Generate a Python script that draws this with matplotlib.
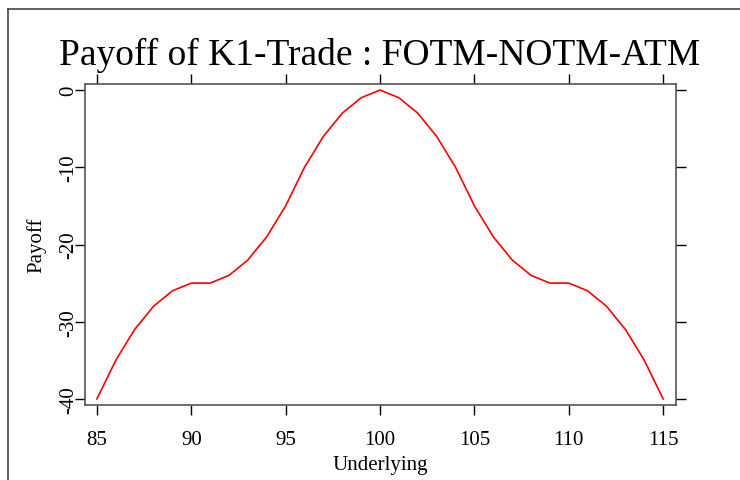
import matplotlib
matplotlib.use("Agg")
import matplotlib.pyplot as plt
from matplotlib.lines import Line2D

underlying = list(range(85, 116))
payoff = [-40, -35, -31, -28, -26, -25, -25, -24, -22, -19, -15, -10, -6, -3, -1, 0,
          -1, -3, -6, -10, -15, -19, -22, -24, -25, -25, -26, -28, -31, -35, -40]
xticks = [85, 90, 95, 100, 105, 110, 115]
yticks = [0, -10, -20, -30, -40]

plt.rcParams["font.family"] = ["Liberation Serif", "DejaVu Serif"]
plt.rcParams["axes.unicode_minus"] = False

fig = plt.figure(figsize=(7.4, 4.81), dpi=100)
ax = fig.add_axes([85 / 740, 1 - 406 / 481, (676 - 85) / 740, (406 - 85) / 481])

ax.plot(underlying, payoff, color="red", lw=1.2)
ax.set_xlim(84.37, 115.68)
ax.set_ylim(-40.78, 0.78)

ax.set_xticks(xticks)
ax.set_yticks(yticks)
ax.tick_params(direction="out", length=7, width=1, colors="black", labelsize=15,
               top=True, right=True, labeltop=False, labelright=False)
ax.tick_params(axis="x", pad=11)
ax.tick_params(axis="y", pad=-2)
for lab in ax.get_yticklabels():
    lab.set_rotation(90)
    lab.set_va("center")
for s in ax.spines.values():
    s.set_color("#555555")
    s.set_linewidth(1.2)

ax.set_xlabel("Underlying", fontsize=15, labelpad=4)
ax.set_ylabel("Payoff", fontsize=15, labelpad=9)
fig.text(380 / 740, 1 - 55 / 481, "Payoff of K1-Trade : FOTM-NOTM-ATM",
         ha="center", va="center", fontsize=27)

# outer frame (partially visible)
fig.add_artist(Line2D([8 / 740, 8 / 740], [0, 1 - 10 / 481], color="#444444", lw=1.2,
                      transform=fig.transFigure))
fig.add_artist(Line2D([8 / 740, 1], [1 - 10 / 481, 1 - 10 / 481], color="#444444", lw=1.2,
                      transform=fig.transFigure))

fig.savefig("out.png", dpi=100)
